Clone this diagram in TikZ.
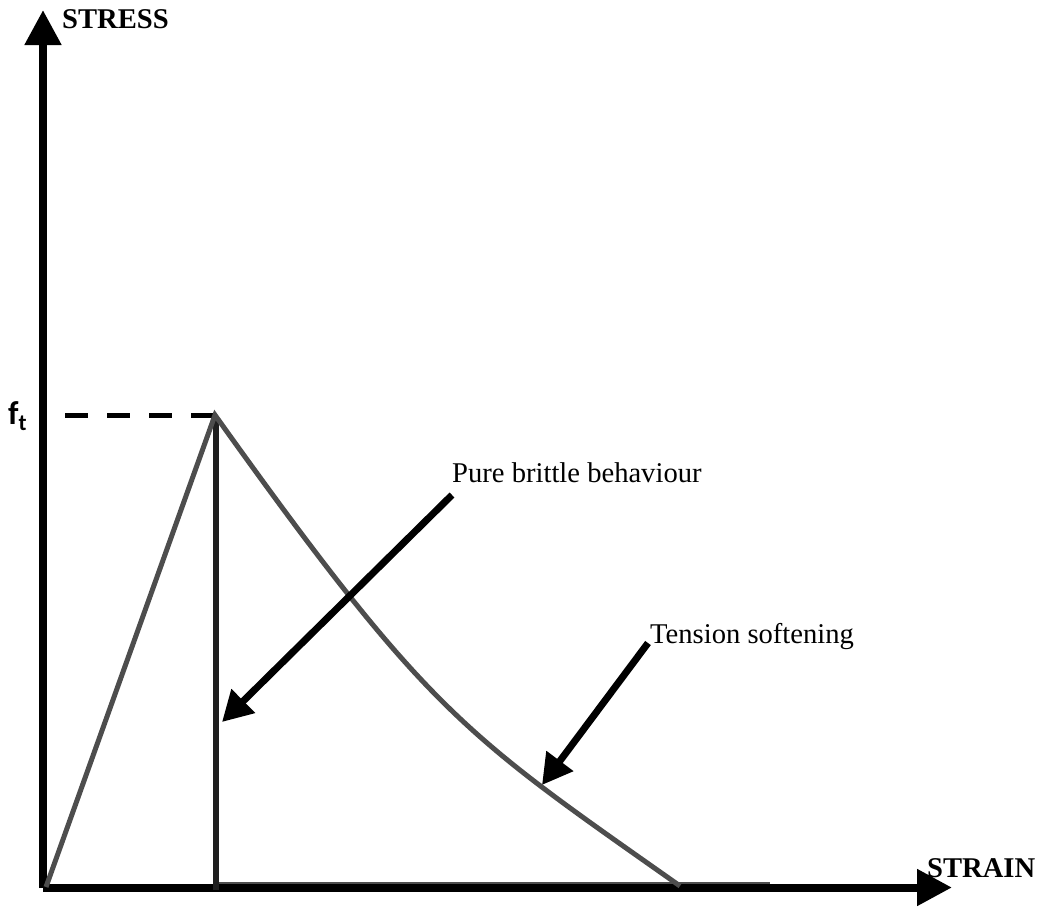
\documentclass[tikz,border=0pt]{standalone}
\usepackage{fontspec}
\setmainfont{Liberation Serif}
\newfontfamily\ftfont{Carlito}
\usetikzlibrary{arrows.meta}
\definecolor{curvegray}{HTML}{4D4D4D}
\definecolor{brittlegray}{HTML}{1F1F1F}
\tikzset{
  axisline/.style={line width=8pt, black, -{Triangle[length=35pt,width=35pt]}},
  labelarrow/.style={line width=7pt, black, -{Triangle[length=30pt,width=32pt]}},
  curveline/.style={line width=5pt, curvegray},
  brittleline/.style={line width=6pt, brittlegray},
  axislabel/.style={inner sep=0pt, anchor=base west, font=\fontsize{28.6}{34}\selectfont\bfseries},
  curvelabel/.style={inner sep=0pt, anchor=base west, font=\fontsize{28.6}{34}\selectfont},
}
\begin{document}
\begin{tikzpicture}[x=1pt,y=-1pt]
\useasboundingbox (0,0) rectangle (1042,908);
% coordinates
\coordinate (O) at (43,888);
\coordinate (ytop) at (43,10);
\coordinate (xorig) at (43,887.5);
\coordinate (xend) at (952,887.5);
\coordinate (start) at (46,887);
\coordinate (peak) at (215,415);
\coordinate (softend) at (680,886);
\coordinate (vtop) at (216,416);
\coordinate (vbot) at (216,890);
\coordinate (dashA) at (65,415.5);
\coordinate (dashB) at (217,415.5);
\coordinate (zeroA) at (216,883);
\coordinate (zeroB) at (770,883);
\coordinate (pbtail) at (452,495);
\coordinate (pbtip) at (222,722);
\coordinate (tstail) at (648,643);
\coordinate (tstip) at (542,785);
% thin zero line
\draw[line width=1.3pt, curvegray] (zeroA) -- (zeroB);
% axes
\draw[axisline] (O) -- (ytop);
\draw[axisline] (xorig) -- (xend);
% dashed f_t line
\draw[line width=5pt, black, dash pattern=on 23pt off 19pt] (dashA) -- (dashB);
% brittle vertical drop
\draw[brittleline] (vtop) -- (vbot);
% stress-strain curve
\draw[curveline, line join=miter] (start) -- (peak) .. controls (430,716) and (465,734.5) .. (softend);
% labels
\node[axislabel] (stress) at (62,28) {STRESS};
\node[axislabel] (strain) at (927,877) {STRAIN};
\node[inner sep=0pt, anchor=base west, font=\ftfont\bfseries\fontsize{33}{38}\selectfont] (ft) at (8,424) {f\textsubscript{t}};
\node[curvelabel] (pb) at (452,482) {Pure brittle behaviour};
\node[curvelabel] (ts) at (650,643) {Tension softening};
% label arrows
\draw[labelarrow] (pbtail) -- (pbtip);
\draw[labelarrow] (tstail) -- (tstip);
\end{tikzpicture}
\end{document}
